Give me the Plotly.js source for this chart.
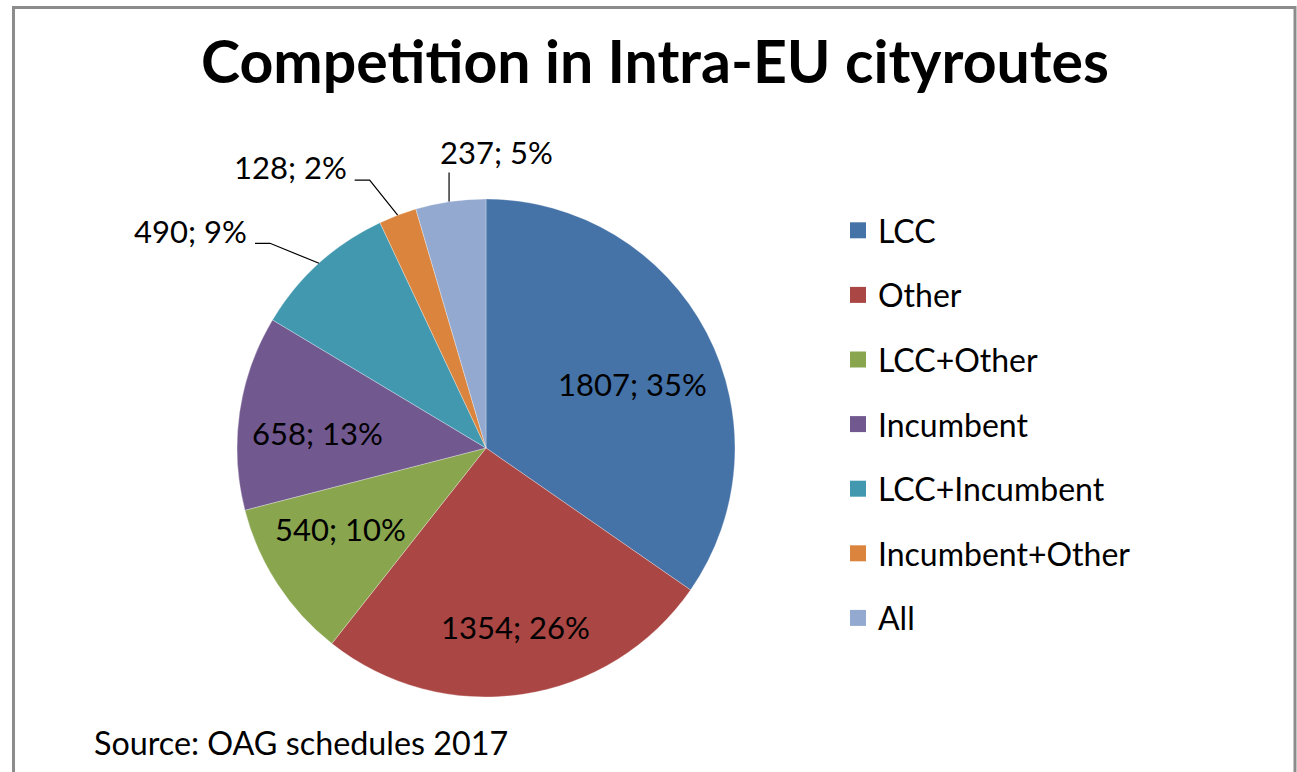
<!DOCTYPE html>
<html>
<head>
<meta charset="utf-8">
<script src="https://cdn.plot.ly/plotly-3.0.1.min.js"></script>
<style>
  html, body { margin: 0; padding: 0; background: #fff; }
  #chart { width: 1297px; height: 772px; }
</style>
</head>
<body>
<div id="chart"></div>
<script>
const categories = ['LCC', 'Other', 'LCC+Other', 'Incumbent', 'LCC+Incumbent', 'Incumbent+Other', 'All'];
const routeCounts = [1807, 1354, 540, 658, 490, 128, 237];
const sliceColors = ['#4572A7', '#AA4643', '#89A54E', '#71588F', '#4198AF', '#DB843D', '#93A9CF'];
const chartTitle = 'Competition in Intra-EU cityroutes';
const sourceNote = 'Source: OAG schedules 2017';

const W = 1297, H = 772;
const FONT = 'Lato, "Open Sans", sans-serif';
const LABEL_SIZE = 31;

// pie geometry (pixels)
const PIE = { cx: 486, cy: 448, r: 249 };

// label placement style per slice: inside labels at a fraction of the radius,
// outside labels with leader lines (offsets in px relative to slice edge point)
const labelStyle = [
  { inside: 0.64, dAng: 4 },
  { inside: 0.73, dAng: -1 },
  { inside: 0.67, dAng: 4 },
  { inside: 0.68, dAng: -3 },
  { path: [[-64, -20], [-49, -20], [0, 0]], text: [-70, -32], anchor: 'right' },
  { path: [[-43, -35], [-28, -35], [0, 0]], text: [-49, -48], anchor: 'right' },
  { path: [[-1.5, -29], [-1.5, 0]], text: [-13, -50], anchor: 'left' }
];

const total = routeCounts.reduce((a, b) => a + b, 0);
const fmtPct = v => Math.round(100 * v / total) + '%';

const px = (x) => x / W;
const py = (y) => 1 - y / H;

const annotations = [];
const shapes = [];
let cum = 0;
routeCounts.forEach((v, i) => {
  const mid = (cum + v / 2) / total;
  cum += v;
  const st = labelStyle[i];
  const text = v + '; ' + fmtPct(v);
  const font = { family: FONT, size: LABEL_SIZE, color: '#000' };
  if (st.inside) {
    const th = 2 * Math.PI * mid + st.dAng * Math.PI / 180;
    const rr = PIE.r * st.inside;
    annotations.push({
      text: text, xref: 'paper', yref: 'paper',
      x: px(PIE.cx + rr * Math.sin(th)), y: py(PIE.cy - rr * Math.cos(th)),
      xanchor: 'center', yanchor: 'middle', showarrow: false, font: font
    });
    return;
  }
  const th = 2 * Math.PI * mid;
  const ex = PIE.cx + PIE.r * Math.sin(th);
  const ey = PIE.cy - PIE.r * Math.cos(th);
  const d = st.path.map((p, k) => (k === 0 ? 'M' : 'L') + px(ex + p[0]) + ',' + py(ey + p[1])).join(' ');
  shapes.push({ type: 'path', xref: 'paper', yref: 'paper', path: d, line: { color: '#000', width: 1.2 } });
  annotations.push({
    text: text, xref: 'paper', yref: 'paper',
    x: px(ex + st.text[0]), y: py(ey + st.text[1]),
    xanchor: st.anchor, yanchor: 'middle', showarrow: false, font: font
  });
});

annotations.push({
  text: sourceNote,
  xref: 'paper', yref: 'paper',
  x: 92 / W, y: (H - 742) / H,
  xanchor: 'left', yanchor: 'middle',
  showarrow: false,
  font: { family: FONT, size: 32.3, color: '#000' }
});

shapes.push({
  type: 'rect', xref: 'paper', yref: 'paper',
  x0: 13.5 / W, x1: 1295 / W, y0: -0.2, y1: 1 - 7.5 / H,
  line: { color: '#8c8c8c', width: 3 }, fillcolor: 'rgba(0,0,0,0)', layer: 'above'
});

const pieTrace = {
  type: 'pie',
  labels: categories,
  values: routeCounts,
  sort: false,
  direction: 'clockwise',
  rotation: 0,
  marker: { colors: sliceColors, line: { color: 'rgba(255,255,255,0.6)', width: 0.5 } },
  textinfo: 'none',
  automargin: false,
  showlegend: false,
  hoverinfo: 'label+value+percent',
  domain: { x: [(PIE.cx - PIE.r) / W, (PIE.cx + PIE.r) / W], y: [py(PIE.cy + PIE.r), py(PIE.cy - PIE.r)] }
};

const legendTraces = categories.map((c, i) => ({
  type: 'scatter',
  mode: 'markers',
  x: [null], y: [null],
  name: c,
  legendgroup: c,
  marker: { symbol: 'square', size: 16, color: sliceColors[i] },
  hoverinfo: 'skip',
  showlegend: true
}));

const layout = {
  width: W, height: H,
  margin: { l: 0, r: 0, t: 0, b: 0 },
  paper_bgcolor: '#fff',
  plot_bgcolor: 'rgba(0,0,0,0)',
  title: {
    text: '<b>' + chartTitle + '</b>',
    font: { family: FONT, size: 59, color: '#000' },
    x: 655 / W, xref: 'container', xanchor: 'center',
    y: 1 - 62 / H, yref: 'container', yanchor: 'middle'
  },
  xaxis: { visible: false },
  yaxis: { visible: false },
  showlegend: true,
  legend: {
    x: 838 / W, xref: 'paper', xanchor: 'left',
    y: py(203), yref: 'paper', yanchor: 'top',
    font: { family: FONT, size: 32, color: '#000' },
    tracegroupgap: 20,
    traceorder: 'grouped',
    bgcolor: 'rgba(0,0,0,0)',
    itemclick: false, itemdoubleclick: false
  },
  annotations: annotations,
  shapes: shapes
};

Plotly.newPlot('chart', [pieTrace].concat(legendTraces), layout, { displayModeBar: false });
</script>
</body>
</html>
